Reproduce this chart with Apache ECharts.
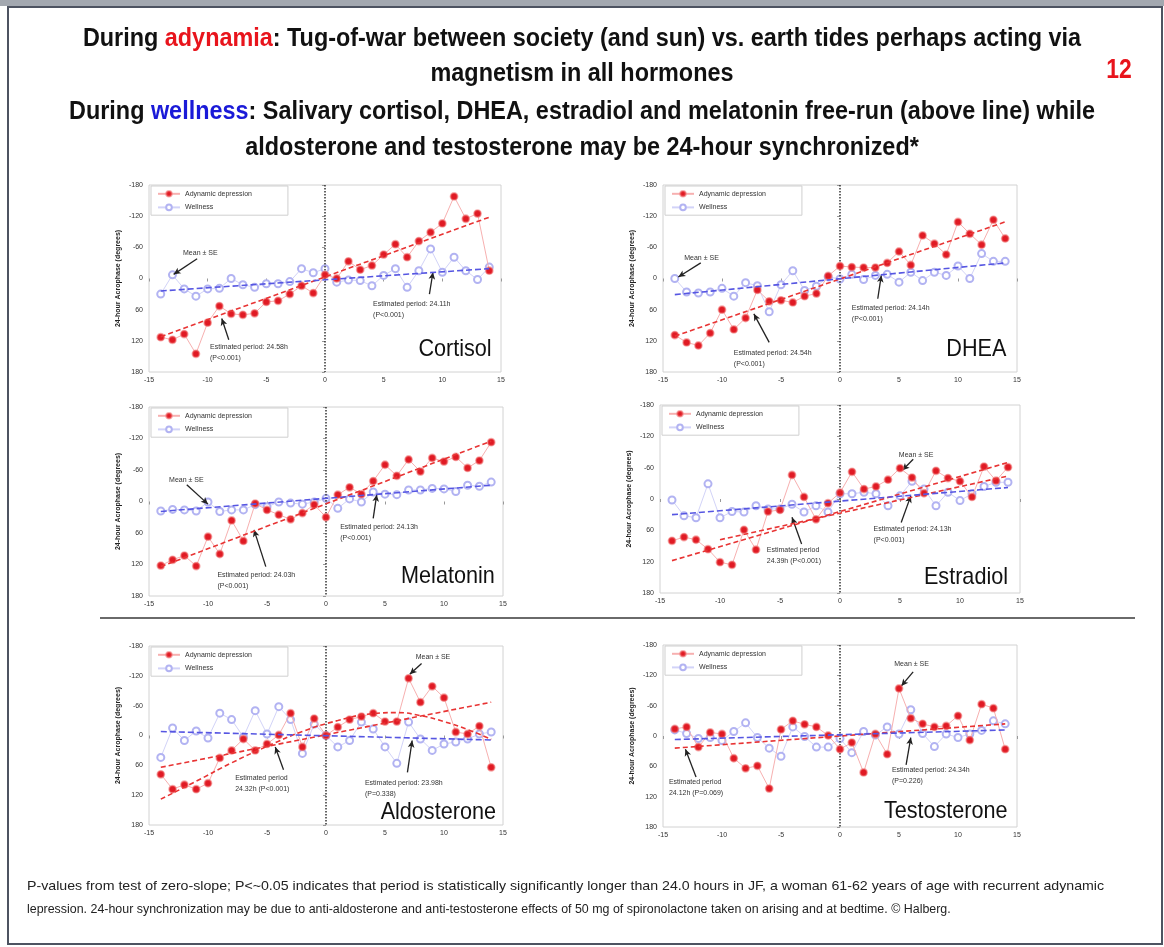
<!DOCTYPE html>
<html><head><meta charset="utf-8">
<script src="https://cdn.jsdelivr.net/npm/echarts@6/dist/echarts.min.js"></script>
<style>html,body{margin:0;padding:0;background:#fff}#c{width:1164px;height:947px}</style>
</head><body><div id="c"></div>
<script>
// ---------- data ----------
const days = [-14,-13,-12,-11,-10,-9,-8,-7,-6,-5,-4,-3,-2,-1,0,1,2,3,4,5,6,7,8,9,10,11,12,13,14];
const xTicks = [-15,-10,-5,0,5,10,15];
const yTicks = [-180,-120,-60,0,60,120,180];

const cortisolAdynamic = [113,118,107,145,85,53,68,70,67,45,43,30,14,28,-7,0,-33,-17,-25,-46,-66,-41,-72,-89,-106,-158,-115,-125,-15];
const cortisolWellness = [30,-7,20,34,20,19,0,12,17,10,10,6,-19,-11,-19,7,3,4,14,-6,-19,17,-15,-57,-12,-41,-15,2,-22];
const cortisolAdyTrend = [[-14,112],[14,-118]];
const cortisolWellTrend = [[-14,24],[14,-19]];

const dheaAdynamic = [109,123,129,105,60,98,76,22,44,42,46,34,29,-5,-24,-22,-21,-21,-30,-52,-26,-83,-67,-46,-109,-86,-65,-113,-77];
const dheaWellness = [0,26,28,26,19,34,8,14,64,12,-15,23,15,-3,1,-8,2,-6,-8,7,-12,4,-12,-6,-24,0,-48,-33,-33];
const dheaAdyTrend = [[-14,111],[14,-109]];
const dheaWellTrend = [[-14,31],[14,-30]];

const melatoninAdynamic = [122,111,103,123,67,100,36,75,4,16,25,34,22,6,30,-13,-27,-14,-39,-70,-49,-80,-57,-83,-76,-85,-64,-78,-113];
const melatoninWellness = [18,15,16,18,1,19,16,16,6,10,1,3,5,1,-6,13,-5,1,-18,-14,-13,-22,-22,-25,-24,-19,-31,-29,-37];
const melatoninAdyTrend = [[-14,124],[14,-115]];
const melatoninWellTrend = [[-14,19],[14,-31]];

const estradiolAdynamic = [80,73,78,96,121,126,59,97,24,21,-46,-4,39,8,-12,-52,-19,-24,-37,-59,-41,-11,-54,-40,-34,-4,-62,-35,-61];
const estradiolWellness = [2,32,36,-29,36,24,25,13,19,19,10,25,13,25,-10,-10,-13,-10,13,-6,-34,-19,13,-13,3,-10,-24,-32,-32];
const estradiolAdyTrend = [[-14,118],[14,-70]];
const estradiolAdyTrend2 = [[-10,78],[14,-44]];
const estradiolWellTrend = [[-14,30],[14,-22]];

const aldosteroneAdynamic = [78,108,99,108,96,45,30,7,30,17,-1,-45,23,-34,0,-17,-32,-38,-45,-28,-28,-115,-67,-99,-76,-7,-3,-19,64];
const aldosteroneWellness = [44,-15,10,-9,5,-45,-32,3,-50,-3,-58,-32,36,-23,0,23,10,-27,-13,23,56,-27,7,30,17,13,7,-3,-7];
const aldosteroneAdyTrend = [[-14,64],[14,-67]];
const aldosteroneAdyCurve = [[-14,128],[-11,92],[-8,55],[-5,22],[-2,-8],[1,-30],[4,-44],[6,-46],[8,-40],[10,-28],[12,-12],[14,8]];
const aldosteroneWellTrend = [[-14,-8],[14,9]];

const testosteroneAdynamic = [-14,-18,22,-7,-4,44,64,59,104,-13,-30,-23,-18,-1,26,13,72,-4,36,-94,-35,-24,-18,-20,-40,8,-63,-55,26];
const testosteroneWellness = [-12,-5,5,3,9,-9,-26,3,24,40,-18,1,22,22,5,33,-9,-2,-18,-4,-52,-5,21,-4,3,-4,-11,-30,-24];
const testosteroneAdyTrend = [[-14,24],[14,-24]];
const testosteroneWellTrend = [[-14,7],[14,-12]];

// ---------- layout ----------
const FONT = "'Liberation Sans', Arial, sans-serif";
const panels = [
  {label:'Cortisol', ady:cortisolAdynamic, well:cortisolWellness, adyTrends:[cortisolAdyTrend], wellTrend:cortisolWellTrend,
   grid:{left:149,top:185,width:352,height:187}, labelAt:[14.2,136],
   notes:[{t:'Mean ± SE',at:[-12.1,-50],from:[-10.9,-38],to:[-12.9,-8]},
          {t:'Estimated period: 24.58h\n(P<0.001)',at:[-9.8,131],from:[-8.2,118],to:[-8.8,77]},
          {t:'Estimated period: 24.11h\n(P<0.001)',at:[4.1,48],from:[8.9,30],to:[9.2,-12]}]},
  {label:'DHEA', ady:dheaAdynamic, well:dheaWellness, adyTrends:[dheaAdyTrend], wellTrend:dheaWellTrend,
   grid:{left:663,top:185,width:354,height:187}, labelAt:[14.1,136],
   notes:[{t:'Mean ± SE',at:[-13.2,-41],from:[-11.8,-30],to:[-13.7,-3]},
          {t:'Estimated period: 24.54h\n(P<0.001)',at:[-9.0,142],from:[-6.0,123],to:[-7.3,68]},
          {t:'Estimated period: 24.14h\n(P<0.001)',at:[1.0,55],from:[3.2,39],to:[3.5,-6]}]},
  {label:'Melatonin', ady:melatoninAdynamic, well:melatoninWellness, adyTrends:[melatoninAdyTrend], wellTrend:melatoninWellTrend,
   grid:{left:149,top:407,width:354,height:189}, labelAt:[14.3,143],
   notes:[{t:'Mean ± SE',at:[-13.3,-41],from:[-11.8,-32],to:[-10.0,5]},
          {t:'Estimated period: 24.03h\n(P<0.001)',at:[-9.2,140],from:[-5.1,124],to:[-6.1,54]},
          {t:'Estimated period: 24.13h\n(P<0.001)',at:[1.2,48],from:[4.0,32],to:[4.3,-13]}]},
  {label:'Estradiol', ady:estradiolAdynamic, well:estradiolWellness, adyTrends:[estradiolAdyTrend, estradiolAdyTrend2], wellTrend:estradiolWellTrend,
   grid:{left:660,top:405,width:360,height:188}, labelAt:[14.0,150],
   notes:[{t:'Mean ± SE',at:[4.9,-86],from:[6.1,-76],to:[5.2,-55]},
          {t:'Estimated period\n24.39h (P<0.001)',at:[-6.1,96],from:[-3.2,86],to:[-4.0,35]},
          {t:'Estimated period: 24.13h\n(P<0.001)',at:[2.8,57],from:[5.1,45],to:[5.9,-6]}]},
  {label:'Aldosterone', ady:aldosteroneAdynamic, well:aldosteroneWellness, adyTrends:[aldosteroneAdyTrend], adyCurve:aldosteroneAdyCurve, wellTrend:aldosteroneWellTrend,
   grid:{left:149,top:646,width:354,height:179}, labelAt:[14.4,154],
   notes:[{t:'Mean ± SE',at:[7.6,-159],from:[8.1,-145],to:[7.1,-123]},
          {t:'Estimated period\n24.32h (P<0.001)',at:[-7.7,84],from:[-3.6,69],to:[-4.3,23]},
          {t:'Estimated period: 23.98h\n(P=0.338)',at:[3.3,94],from:[6.9,74],to:[7.3,10]}]},
  {label:'Testosterone', ady:testosteroneAdynamic, well:testosteroneWellness, adyTrends:[testosteroneAdyTrend], wellTrend:testosteroneWellTrend,
   grid:{left:663,top:645,width:354,height:182}, labelAt:[14.2,150],
   notes:[{t:'Mean ± SE',at:[4.6,-144],from:[6.2,-127],to:[5.2,-99]},
          {t:'Estimated period\n24.12h (P=0.069)',at:[-14.5,90],from:[-12.2,81],to:[-13.1,26]},
          {t:'Estimated period: 24.34h\n(P=0.226)',at:[4.4,67],from:[5.6,57],to:[6.0,3]}]}
];

const grids=[], xAxes=[], yAxes=[], series=[], legends=[];
panels.forEach((p,i)=>{
  grids.push(Object.assign({show:true, borderColor:'#d2d2d2', borderWidth:1, backgroundColor:'#fff'}, p.grid));
  xAxes.push({type:'value', gridIndex:i, min:xTicks[0], max:xTicks[xTicks.length-1], interval:5,
    axisLine:{show:false}, splitLine:{show:false},
    axisTick:{show:true, length:3, lineStyle:{color:'#999'}},
    axisLabel:{fontSize:7, color:'#333', margin:5, fontFamily:FONT}});
  yAxes.push({type:'value', gridIndex:i, inverse:true, min:yTicks[0], max:yTicks[yTicks.length-1], interval:60,
    axisLine:{show:false}, splitLine:{show:false},
    axisTick:{show:true, length:3, lineStyle:{color:'#999'}},
    axisLabel:{fontSize:7, color:'#333', margin:6, fontFamily:FONT},
    name:'24-hour Acrophase (degrees)', nameLocation:'middle', nameRotate:90, nameGap:27,
    nameTextStyle:{fontSize:7, fontWeight:'bold', color:'#222', fontFamily:FONT}});
  legends.push({left:p.grid.left+2, top:p.grid.top+1, orient:'vertical', itemWidth:22, itemHeight:7, itemGap:6,
    padding:[4,36,4,6], borderColor:'#cfcfcf', borderWidth:1, backgroundColor:'#fff',
    textStyle:{fontSize:7, color:'#333', fontFamily:FONT},
    data:['Adynamic depression','Wellness'], selectedMode:false});
  series.push({name:'Adynamic depression', type:'line', xAxisIndex:i, yAxisIndex:i, z:5,
    data:days.map((d,k)=>[d,p.ady[k]]), symbol:'circle', symbolSize:7,
    itemStyle:{color:'#e01a24', borderColor:'rgba(240,110,110,0.55)', borderWidth:1.8},
    lineStyle:{color:'#f7b0b0', width:1},
    markLine:{silent:true, symbol:['none','none'], label:{show:false},
      lineStyle:{color:'#333', type:'dotted', width:1.5}, data:[{xAxis:0}]}});
  series.push({name:'Wellness', type:'line', xAxisIndex:i, yAxisIndex:i, z:4,
    data:days.map((d,k)=>[d,p.well[k]]), symbol:'emptyCircle', symbolSize:7,
    itemStyle:{color:'#b2b3f2', borderWidth:1.3},
    lineStyle:{color:'#d2d3f8', width:1}});
  p.adyTrends.forEach(tr=>{
    series.push({name:'ady-trend', type:'line', xAxisIndex:i, yAxisIndex:i, z:6, symbol:'none',
      data:tr, lineStyle:{color:'#e83434', type:[5,3], width:1.6}});
  });
  if(p.adyCurve){
    series.push({name:'ady-curve', type:'line', xAxisIndex:i, yAxisIndex:i, z:6, symbol:'none', smooth:true,
      data:p.adyCurve, lineStyle:{color:'#e83434', type:[5,3], width:1.6}});
  }
  series.push({name:'well-trend', type:'line', xAxisIndex:i, yAxisIndex:i, z:6, symbol:'none',
    data:p.wellTrend, lineStyle:{color:'#5656e2', type:[6,3], width:1.6},
    markLine:{silent:true, symbol:['none','arrow'], symbolSize:[5,7], label:{show:false},
      lineStyle:{color:'#222', type:'solid', width:1.3},
      data:p.notes.map(n=>[{coord:n.from},{coord:n.to}])}});
});

const chart = echarts.init(document.getElementById('c'), null, {renderer:'canvas', width:1164, height:947});
chart.setOption({animation:false, backgroundColor:'#fff', grid:grids, xAxis:xAxes, yAxis:yAxes, series:series, legend:legends});

// ---------- text & decorations ----------
const TK = {fontSize:26, fontWeight:'bold', fill:'#111', fontFamily:FONT};
const rich = {k:TK, r:Object.assign({},TK,{fill:'#e8141c'}), b:Object.assign({},TK,{fill:'#1a1ad8'})};
const titleLines = [
  '{k|During }{r|adynamia}{k|: Tug-of-war between society (and sun) vs. earth tides perhaps acting via}',
  '{k|magnetism in all hormones}',
  '{k|During }{b|wellness}{k|: Salivary cortisol, DHEA, estradiol and melatonin free-run (above line) while}',
  '{k|aldosterone and testosterone may be 24-hour synchronized*}'
];
const titleY = [39, 74, 112, 148];
const footer = [
  'P-values from test of zero-slope; P<~0.05 indicates that period is statistically significantly longer than 24.0 hours in JF, a woman 61-62 years of age with recurrent adynamic',
  'lepression. 24-hour synchronization may be due to anti-aldosterone and anti-testosterone effects of 50 mg of spironolactone taken on arising and at bedtime. © Halberg.'
];
const footerScale = [1.05, 0.92];
const g = [];
g.push({type:'rect', shape:{x:0,y:0,width:1164,height:6}, style:{fill:'#a3a8b0'}, silent:true});
g.push({type:'rect', shape:{x:8,y:7,width:1154,height:937}, style:{fill:'none', stroke:'#4d5361', lineWidth:2}, silent:true});
titleLines.forEach((t,k)=>{
  g.push({type:'text', x:582, y:titleY[k], scaleX:0.9, silent:true,
    style:{text:t, rich:rich, fill:'#111', fontSize:26, fontWeight:'bold', fontFamily:FONT, align:'center', textAlign:'center', verticalAlign:'middle', textVerticalAlign:'middle'}});
});
g.push({type:'text', x:1119, y:71, scaleX:0.85, silent:true,
  style:{text:'12', fontSize:27, fontWeight:'bold', fill:'#e8141c', fontFamily:FONT, align:'center', textAlign:'center', verticalAlign:'middle', textVerticalAlign:'middle'}});
footer.forEach((t,k)=>{
  g.push({type:'text', x:27, y:886+k*23, scaleX:footerScale[k], silent:true,
    style:{text:t, fontSize:13.5, fill:'#222', fontFamily:FONT, align:'left', textAlign:'left', verticalAlign:'middle', textVerticalAlign:'middle'}});
});
g.push({type:'line', shape:{x1:100,y1:618,x2:1135,y2:618}, style:{stroke:'#6a6a6a', lineWidth:2}, silent:true});

panels.forEach((p,i)=>{
  const lp = chart.convertToPixel({gridIndex:i}, p.labelAt);
  g.push({type:'text', x:lp[0], y:lp[1], scaleX:0.9, silent:true, z:100,
    style:{text:p.label, fontSize:24, fill:'#111', fontFamily:FONT, align:'right', textAlign:'right', verticalAlign:'middle', textVerticalAlign:'middle'}});
  p.notes.forEach(n=>{
    const pt = chart.convertToPixel({gridIndex:i}, n.at);
    g.push({type:'text', x:pt[0], y:pt[1]-5, silent:true, z:100,
      style:{text:n.t, fontSize:7, lineHeight:11, fill:'#333', fontFamily:FONT, align:'left', textAlign:'left', verticalAlign:'top', textVerticalAlign:'top'}});
  });
});
chart.setOption({graphic:g});
</script></body></html>
